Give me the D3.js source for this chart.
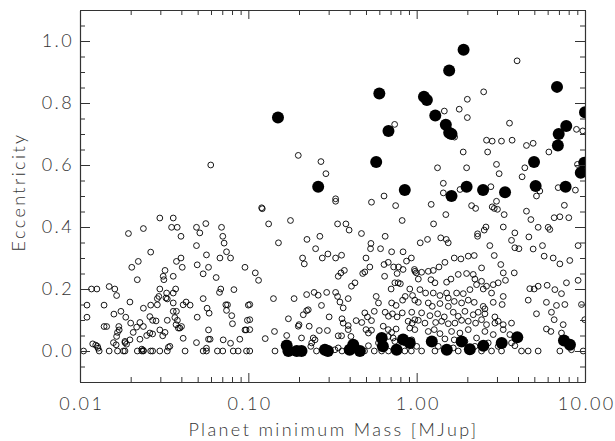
<!DOCTYPE html>
<html>
<head>
<meta charset="utf-8">
<script src="https://cdn.jsdelivr.net/npm/d3@7"></script>
<style>
  body { margin: 0; background: #fff; }
  text { font-family: "Lato", "DejaVu Sans", sans-serif; font-weight: 300; letter-spacing: 2.4px; }
</style>
</head>
<body>
<div id="chart"></div>
<script>
// planets without (open) and with (filled) the flag, as [mass in MJup, eccentricity]
const openPlanets = [
  [0.0105,0],[0.0130,0],[0.0149,0],[0.0167,0],[0.0181,0],[0.0185,0],[0.0219,0],[0.0233,0],[0.0238,0],[0.0263,0],
  [0.0270,0],[0.0298,0],[0.0330,0],[0.0421,0],[0.0539,0],[0.0564,0],[0.0655,0],[0.0705,0],[0.0813,0],[0.0870,0],[0.0975,0],
  [0.0119,0.023],[0.0127,0.015],[0.0128,0.009],[0.0124,0.019],[0.0158,0.027],[0.0164,0.02],[0.0185,0.027],[0.0189,0.022],
  [0.0233,0.006],[0.0238,0.002],[0.0335,0.012],[0.0342,0.015],[0.0564,0.009],[0.0492,0.027],[0.0580,0.038],[0.0709,0.036],
  [0.0784,0.025],[0.0890,0.038],[0.0955,0.068],
  [0.0598,0.60],[0.0298,0.429],[0.0358,0.429],[0.0350,0.399],[0.0378,0.399],[0.0398,0.370],[0.0238,0.395],[0.0194,0.379],
  [0.0492,0.399],[0.0515,0.381],[0.0559,0.411],[0.0693,0.399],[0.0705,0.370],[0.0718,0.348],[0.0742,0.320],[0.0784,0.300],
  [0.0678,0.300],[0.0564,0.310],[0.0492,0.340],[0.0497,0.278],[0.0580,0.270],[0.0539,0.249],[0.0644,0.237],[0.0263,0.319],
  [0.0222,0.289],[0.0203,0.270],[0.0219,0.230],[0.0374,0.289],[0.0398,0.300],[0.0405,0.270],[0.0320,0.260],[0.0312,0.241],
  [0.0315,0.230],[0.0358,0.241],[0.0298,0.200],[0.0370,0.200],[0.0358,0.187],[0.0288,0.169],[0.0324,0.171],[0.0330,0.168],
  [0.0358,0.155],[0.0288,0.149],[0.0263,0.148],[0.0238,0.138],[0.0198,0.158],[0.0149,0.208],[0.0161,0.200],[0.0165,0.179],
  [0.0117,0.200],[0.0126,0.200],[0.0110,0.148],[0.0139,0.148],[0.0110,0.109],[0.0159,0.119],[0.0175,0.128],[0.0187,0.109],
  [0.0200,0.090],[0.0217,0.077],[0.0227,0.092],[0.0238,0.079],[0.0207,0.060],[0.0170,0.079],[0.0171,0.068],[0.0167,0.060],
  [0.0165,0.047],[0.0139,0.079],[0.0144,0.079],[0.0198,0.036],[0.0185,0.031],[0.0227,0.038],[0.0249,0.050],[0.0260,0.058],
  [0.0270,0.055],[0.0298,0.068],[0.0320,0.060],[0.0310,0.049],[0.0260,0.111],[0.0270,0.099],[0.0283,0.097],[0.0330,0.099],
  [0.0374,0.128],[0.0358,0.128],[0.0366,0.108],[0.0379,0.099],[0.0372,0.085],[0.0384,0.074],[0.0392,0.074],[0.0401,0.079],
  [0.0410,0.149],[0.0427,0.158],[0.0451,0.148],[0.0410,0.041],[0.0497,0.109],[0.0539,0.169],[0.0569,0.138],[0.0585,0.122],
  [0.0580,0.068],[0.0593,0.038],[0.0674,0.189],[0.0686,0.200],[0.0735,0.149],[0.0752,0.149],[0.0742,0.131],[0.0797,0.114],
  [0.0805,0.088],[0.0821,0.198],[0.0970,0.068],[0.1000,0.148],[0.0987,0.099],[0.0955,0.270],[0.0327,0.187],[0.0294,0.176],
  // 0.1 - 1
  [0.198,0.631],[0.270,0.611],[0.289,0.572],[0.330,0.491],[0.330,0.483],[0.539,0.480],[0.640,0.500],[0.750,0.469],
  [0.820,0.421],[0.120,0.462],[0.121,0.459],[0.132,0.410],[0.178,0.421],[0.339,0.410],[0.380,0.410],[0.397,0.390],
  [0.470,0.379],[0.650,0.370],[0.535,0.347],[0.532,0.330],[0.610,0.330],[0.710,0.320],[0.830,0.320],[0.930,0.300],
  [0.870,0.290],[0.970,0.263],[0.995,0.252],[0.223,0.360],[0.266,0.370],[0.151,0.349],[0.251,0.330],[0.210,0.300],
  [0.215,0.281],[0.275,0.300],[0.297,0.313],[0.330,0.300],[0.358,0.309],[0.500,0.300],[0.527,0.271],[0.492,0.255],
  [0.478,0.250],[0.640,0.279],[0.678,0.286],[0.730,0.271],[0.780,0.271],[0.765,0.250],[0.830,0.263],[0.645,0.241],
  [0.342,0.241],[0.355,0.252],[0.372,0.260],[0.410,0.209],[0.430,0.220],[0.742,0.220],[0.776,0.220],[0.800,0.217],
  [0.705,0.200],[0.910,0.200],[0.945,0.179],[0.975,0.164],[0.825,0.164],[0.855,0.176],[0.710,0.155],[0.755,0.147],
  [0.110,0.252],[0.115,0.228],[0.102,0.150],[0.141,0.169],[0.187,0.169],[0.222,0.182],[0.246,0.189],[0.260,0.180],
  [0.292,0.189],[0.330,0.189],[0.339,0.176],[0.350,0.158],[0.366,0.139],[0.392,0.169],[0.272,0.147],[0.222,0.130],
  [0.212,0.117],[0.227,0.133],[0.575,0.176],[0.593,0.155],[0.560,0.128],[0.650,0.125],[0.680,0.112],[0.718,0.120],
  [0.765,0.110],[0.821,0.123],[0.935,0.125],[0.975,0.101],[0.890,0.096],[0.940,0.090],[0.173,0.104],[0.200,0.085],
  [0.198,0.080],[0.230,0.080],[0.302,0.110],[0.360,0.104],[0.366,0.090],[0.392,0.082],[0.437,0.098],[0.472,0.092],
  [0.492,0.123],[0.510,0.110],[0.539,0.098],[0.264,0.066],[0.295,0.066],[0.342,0.049],[0.358,0.049],[0.392,0.069],
  [0.407,0.047],[0.500,0.069],[0.517,0.058],[0.539,0.067],[0.633,0.080],[0.678,0.069],[0.710,0.060],[0.755,0.071],
  [0.910,0.074],[0.975,0.069],[0.678,0.047],[0.725,0.042],[0.126,0.040],[0.143,0.063],[0.169,0.050],[0.207,0.042],
  [0.243,0.042],[0.249,0.036],[0.238,0.026],[0.235,0.015],[0.102,0],[0.144,0],[0.254,0],[0.327,0.004],[0.342,0.010],
  [0.517,0.017],[0.593,0.026],[0.742,0.031],[0.855,0.026],[0.935,0.036],[1.0,0.015],[0.102,0.101],[0.102,0.069],
  [0.36,0],[0.39,0],[0.49,0],[0.56,0],[0.62,0],[0.68,0],[0.78,0],[0.85,0],[0.93,0],
  // 1 - 10
  [2.60,0.680],[2.81,0.677],[3.19,0.677],[3.69,0.680],[4.49,0.663],[4.92,0.670],[6.10,0.642],[1.89,0.642],[2.64,0.642],
  [1.33,0.591],[1.98,0.591],[2.98,0.602],[3.09,0.572],[4.39,0.591],[4.23,0.562],[9.02,0.602],[8.77,0.519],[1.44,0.541],
  [1.44,0.510],[1.81,0.521],[2.76,0.530],[5.39,0.516],[5.15,0.500],[6.93,0.527],[1.22,0.473],[2.12,0.469],[2.24,0.460],
  [2.81,0.465],[2.89,0.460],[2.98,0.483],[3.02,0.457],[3.31,0.440],[4.49,0.451],[4.77,0.424],[6.56,0.430],[7.09,0.433],
  [8.01,0.430],[1.49,0.440],[1.26,0.410],[2.58,0.400],[2.30,0.378],[2.30,0.370],[2.52,0.390],[2.72,0.340],[3.27,0.400],
  [3.83,0.381],[3.66,0.357],[3.83,0.333],[4.05,0.330],[4.64,0.368],[5.27,0.399],[6.04,0.399],[6.18,0.392],[4.92,0.329],
  [5.59,0.340],[5.72,0.306],[6.47,0.300],[7.09,0.281],[8.12,0.292],[9.10,0.340],[9.10,0.228],[1.05,0.349],[1.16,0.360],
  [1.39,0.365],[1.50,0.360],[1.54,0.349],[2.89,0.308],[2.43,0.268],[3.16,0.279],[3.27,0.252],[3.80,0.252],[4.70,0.201],
  [4.99,0.200],[5.27,0.209],[5.96,0.212],[6.62,0.198],[7.25,0.185],[7.76,0.220],[4.60,0.164],[5.15,0.120],[5.90,0.157],
  [6.77,0.147],[7.59,0.150],[6.32,0.125],[6.56,0.101],[7.42,0.085],[7.25,0.058],[5.90,0.071],[6.27,0.063],[9.53,0.150],
  [9.97,0.101],
  [0.977,0.257],[1.070,0.254],[1.172,0.257],[1.255,0.260],[1.357,0.271],[1.472,0.286],[1.672,0.300],[1.832,0.297],
  [2.025,0.306],[2.198,0.308],[1.023,0.232],[1.216,0.230],[1.284,0.220],[1.506,0.222],[1.598,0.232],[1.766,0.247],
  [1.979,0.250],[2.168,0.247],[2.218,0.232],[2.429,0.225],[2.60,0.209],[2.85,0.214],[3.05,0.220],[3.37,0.228],
  [1.046,0.198],[1.130,0.187],[1.255,0.187],[1.375,0.179],[1.506,0.187],[1.541,0.171],[1.727,0.187],[1.892,0.185],
  [2.072,0.198],[2.269,0.214],[2.486,0.200],[2.785,0.187],[3.267,0.176],[1.023,0.157],[1.172,0.155],[1.238,0.144],
  [1.375,0.153],[1.541,0.144],[1.672,0.160],[1.849,0.155],[2.025,0.164],[2.198,0.157],[2.486,0.144],[2.543,0.136],
  [2.85,0.157],[3.22,0.150],[1.070,0.123],[1.199,0.114],[1.332,0.120],[1.459,0.110],[1.650,0.125],[1.766,0.112],
  [1.935,0.128],[2.168,0.117],[2.321,0.125],[2.543,0.120],[2.915,0.110],[3.051,0.096],[1.023,0.099],[1.120,0.090],
  [1.296,0.092],[1.407,0.096],[1.541,0.088],[1.688,0.090],[1.849,0.099],[2.025,0.096],[2.239,0.090],[2.429,0.101],
  [2.60,0.085],[2.915,0.090],[3.267,0.085],[3.66,0.090],[1.172,0.063],[1.272,0.069],[1.375,0.056],[1.612,0.063],
  [1.807,0.058],[2.025,0.069],[2.269,0.042],[2.543,0.063],[2.85,0.053],[3.267,0.069],[3.578,0.053],[1.472,0.039],
  [1.672,0.036],[1.935,0.031],[2.661,0.026],[3.66,0.026],[1.344,0.015],[1.650,0.010],[2.218,0.015],[3.051,0.015],
  [3.831,0.017],[4.196,0],[4.596,0],[5.269,0],[7.09,0],[8.31,0.004],[9.75,0],[1.07,0],[1.284,0],[1.766,0],[2.025,0],
  [2.429,0],[2.785,0],[3.193,0],
  [0.74,0.731],[1.46,0.774],[1.79,0.780],[2.0,0.812],[2.0,0.753],[2.5,0.836],[3.95,0.936],[3.56,0.735],[8.9,0.715],
  [9.7,0.710],[1.68,0.690],[7.54,0.47]
];

const filledPlanets = [
  [0.150,0.753],[0.60,0.831],[0.68,0.71],[1.105,0.82],[1.15,0.81],[1.29,0.76],[1.56,0.905],[1.90,0.972],[1.49,0.73],
  [1.56,0.704],[1.61,0.70],[6.82,0.852],[10.0,0.77],[7.74,0.726],[6.98,0.70],[6.9,0.663],[4.98,0.61],[9.44,0.575],
  [9.9,0.607],[1.98,0.53],[1.61,0.50],[2.48,0.519],[3.35,0.512],[5.09,0.532],[7.67,0.53],[0.575,0.61],[0.26,0.53],
  [0.85,0.519],
  [0.169,0.018],[0.173,0],[0.194,0],[0.207,0],[0.285,0.004],[0.297,0],[0.40,0.004],[0.42,0.02],[0.46,0],[0.62,0.042],
  [0.63,0.015],[0.76,0.004],[0.83,0.037],[0.91,0.026],[1.23,0.031],[1.51,0.004],[1.85,0.031],[2.07,0.006],[2.49,0.017],
  [3.20,0.026],[3.96,0.044],[7.50,0.034],[8.14,0.02]
];

const xTickValues = [0.01, 0.1, 1, 10];
const xTickLabels = ["0.01", "0.10", "1.00", "10.00"];
const yTickValues = [0, 0.2, 0.4, 0.6, 0.8, 1.0];
const yTickLabels = ["0.0", "0.2", "0.4", "0.6", "0.8", "1.0"];
const xTitle = "Planet minimum Mass [MJup]";
const yTitle = "Eccentricity";

const width = 615, height = 441;
const margin = { top: 10, right: 30, bottom: 59, left: 80 };
const plotWidth = width - margin.left - margin.right;
const plotHeight = height - margin.top - margin.bottom;
const ink = "#333";

const svg = d3.select("#chart").append("svg")
  .attr("width", width)
  .attr("height", height);

const g = svg.append("g")
  .attr("transform", `translate(${margin.left},${margin.top})`);

const x = d3.scaleLog().domain([0.01, 10]).range([0, plotWidth]);
const y = d3.scaleLinear().domain([-0.1, 1.1]).range([plotHeight, 0]);

// minor ticks
const xMinor = [];
[0.01, 0.1, 1].forEach(d => { for (let k = 2; k <= 9; k++) xMinor.push(d * k); });
const yMinor = d3.range(-0.1, 1.1001, 0.05)
  .filter(v => Math.abs(Math.round(v * 100) % 20) !== 0);

g.append("defs").append("clipPath").attr("id", "plot-clip")
  .append("rect").attr("width", plotWidth).attr("height", plotHeight);

// points
const pts = g.append("g").attr("clip-path", "url(#plot-clip)");
pts.selectAll("circle.open")
  .data(openPlanets)
  .join("circle")
  .attr("class", "open")
  .attr("cx", d => x(d[0]))
  .attr("cy", d => y(d[1]))
  .attr("r", 2.9)
  .attr("fill", "none")
  .attr("stroke", "#000")
  .attr("stroke-width", 0.9);
pts.selectAll("circle.filled")
  .data(filledPlanets)
  .join("circle")
  .attr("class", "filled")
  .attr("cx", d => x(d[0]))
  .attr("cy", d => y(d[1]))
  .attr("r", 6)
  .attr("fill", "#000");

function styleAxis(sel) {
  sel.attr("color", ink);
  sel.selectAll("path.domain").attr("stroke-width", 1.1);
  sel.selectAll(".tick line").attr("stroke-width", 1);
  sel.selectAll("text").attr("font-size", 18).attr("fill", ink);
}

// bottom
g.append("g").attr("transform", `translate(0,${plotHeight})`)
  .call(d3.axisBottom(x).tickValues(xMinor).tickSize(-5).tickSizeOuter(0).tickFormat(""))
  .call(styleAxis);
g.append("g").attr("transform", `translate(0,${plotHeight})`)
  .call(d3.axisBottom(x).tickValues(xTickValues).tickSize(-9).tickSizeOuter(0).tickPadding(15)
    .tickFormat((d, i) => xTickLabels[i]))
  .call(styleAxis)
  .selectAll("text").attr("dx", "1.2px");
// top
g.append("g")
  .call(d3.axisTop(x).tickValues(xMinor).tickSize(-5).tickSizeOuter(0).tickFormat(""))
  .call(styleAxis);
g.append("g")
  .call(d3.axisTop(x).tickValues(xTickValues).tickSize(-9).tickSizeOuter(0).tickFormat(""))
  .call(styleAxis);
// left
g.append("g")
  .call(d3.axisLeft(y).tickValues(yMinor).tickSize(-5).tickSizeOuter(0).tickFormat(""))
  .call(styleAxis);
g.append("g")
  .call(d3.axisLeft(y).tickValues(yTickValues).tickSize(-10).tickSizeOuter(0).tickPadding(6)
    .tickFormat((d, i) => yTickLabels[i]))
  .call(styleAxis);
// right
g.append("g").attr("transform", `translate(${plotWidth},0)`)
  .call(d3.axisRight(y).tickValues(yMinor).tickSize(-5).tickSizeOuter(0).tickFormat(""))
  .call(styleAxis);
g.append("g").attr("transform", `translate(${plotWidth},0)`)
  .call(d3.axisRight(y).tickValues(yTickValues).tickSize(-10).tickSizeOuter(0).tickFormat(""))
  .call(styleAxis);

// titles
svg.append("text")
  .attr("x", margin.left + plotWidth / 2 + 1)
  .attr("y", 436)
  .attr("text-anchor", "middle")
  .attr("font-size", 18)
  .attr("fill", ink)
  .text(xTitle);

svg.append("text")
  .attr("transform", `translate(25,192) rotate(-90)`)
  .attr("text-anchor", "middle")
  .attr("font-size", 18)
  .attr("fill", ink)
  .text(yTitle);
</script>
</body>
</html>
